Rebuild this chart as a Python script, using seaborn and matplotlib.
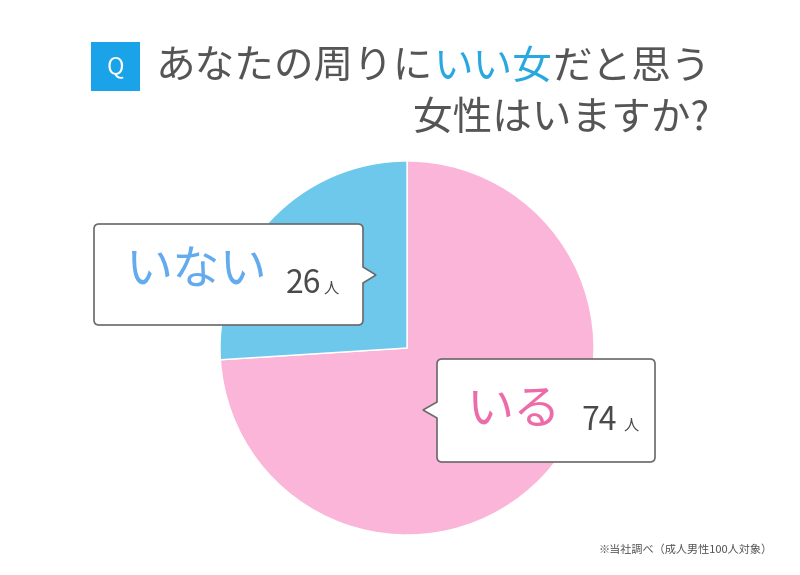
import matplotlib
matplotlib.use("Agg")
import matplotlib.pyplot as plt
import seaborn as sns
from matplotlib.path import Path
from matplotlib.patches import PathPatch, Rectangle

# data
answers = ["いる", "いない"]
counts = [74, 26]
unit = "人"
title_parts = [("あなたの周りに", "#555555"), ("いい女", "#29A8E0"), ("だと思う", "#555555")]
title_line2 = "女性はいますか?"
footnote = "※当社調べ（成人男性100人対象）"

pie_colors = ["#FBB5D8", "#6DC8EC"]
label_colors = ["#EE6BAA", "#63AAEE"]

sns.set_theme(style="white")
plt.rcParams["font.family"] = ["Noto Sans CJK JP", "DejaVu Sans"]

W, H = 800, 575
fig = plt.figure(figsize=(8, 5.75), dpi=100)
fig.patch.set_facecolor("white")

# pie axes, placed in pixel terms
cx, cy, r = 407, 348, 187
pie_ax = fig.add_axes([(cx - r) / W, (H - cy - r) / H, 2 * r / W, 2 * r / H])
pie_ax.pie(counts, colors=pie_colors, startangle=90, counterclock=False,
           wedgeprops=dict(edgecolor="white", linewidth=1))
pie_ax.set_xlim(-1, 1)
pie_ax.set_ylim(-1, 1)
pie_ax.set_aspect("equal")
pie_ax.axis("off")

# overlay in pixel coordinates
ov = fig.add_axes([0, 0, 1, 1], zorder=5)
ov.set_xlim(0, W)
ov.set_ylim(H, 0)
ov.axis("off")
ov.patch.set_alpha(0)


def callout(ax, x0, y0, x1, y1, side, tip, half=8, rad=5):
    tx, ty = tip
    v = [(x0 + rad, y0), (x1 - rad, y0), (x1, y0), (x1, y0 + rad)]
    c = [Path.MOVETO, Path.LINETO, Path.CURVE3, Path.CURVE3]
    if side == "right":
        v += [(x1, ty - half), (tx, ty), (x1, ty + half)]
        c += [Path.LINETO] * 3
    v += [(x1, y1 - rad), (x1, y1), (x1 - rad, y1), (x0 + rad, y1), (x0, y1), (x0, y1 - rad)]
    c += [Path.LINETO, Path.CURVE3, Path.CURVE3, Path.LINETO, Path.CURVE3, Path.CURVE3]
    if side == "left":
        v += [(x0, ty + half), (tx, ty), (x0, ty - half)]
        c += [Path.LINETO] * 3
    v += [(x0, y0 + rad), (x0, y0), (x0 + rad, y0), (x0 + rad, y0)]
    c += [Path.LINETO, Path.CURVE3, Path.CURVE3, Path.CLOSEPOLY]
    ax.add_patch(PathPatch(Path(v, c), facecolor="white", edgecolor="#6a6a6a", lw=1.2))


# callout for いない
callout(ov, 94, 224, 363, 325, "right", (376, 275))
ov.text(125, 271, answers[1], color=label_colors[1], fontsize=34, va="center", ha="left")
ov.text(286, 293, str(counts[1]), color="#4a4a4a", fontsize=23, va="baseline", ha="left")
ov.text(324, 293, unit, color="#4a4a4a", fontsize=11, va="baseline", ha="left")

# callout for いる
callout(ov, 437, 359, 655, 462, "left", (423, 410))
ov.text(466, 411, answers[0], color=label_colors[0], fontsize=34, va="center", ha="left")
ov.text(581, 430, str(counts[0]), color="#4a4a4a", fontsize=23, va="baseline", ha="left")
ov.text(624, 430, unit, color="#4a4a4a", fontsize=11, va="baseline", ha="left")

# Q badge
ov.add_patch(Rectangle((91, 42), 49, 49, facecolor="#1AA3E8", edgecolor="none"))
ov.text(115.5, 67, "Q", color="white", fontsize=17, ha="center", va="center")

# title, measured piece by piece for the coloured words
fig.canvas.draw()
renderer = fig.canvas.get_renderer()
x = 156
for txt, col in title_parts:
    t = ov.text(x, 68, txt, color=col, fontsize=28.5, ha="left", va="center")
    bb = t.get_window_extent(renderer)
    x += bb.width
ov.text(709, 119, title_line2, color="#555555", fontsize=28.5, ha="right", va="center")

ov.text(773, 550, footnote, color="#555555", fontsize=8, ha="right", va="center")

fig.savefig("out.png", dpi=100)
